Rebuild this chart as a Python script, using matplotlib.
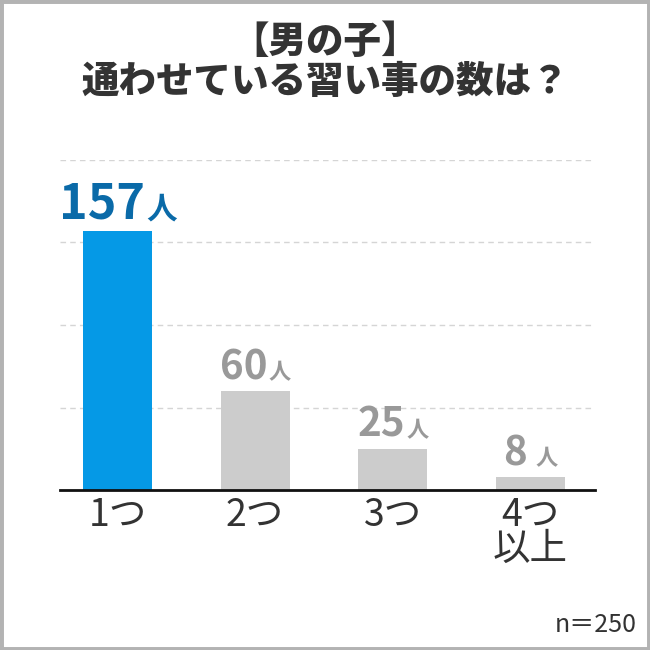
import matplotlib
matplotlib.use("Agg")
import matplotlib.pyplot as plt
from matplotlib.offsetbox import TextArea, HPacker, AnnotationBbox
from matplotlib.patches import Rectangle

plt.rcParams['font.family'] = ['Noto Sans CJK JP', 'DejaVu Sans']

categories = ["1つ", "2つ", "3つ", "4つ\n以上"]
counts = [157, 60, 25, 8]
bar_colors = ["#0599e6", "#cccccc", "#cccccc", "#cccccc"]
label_colors = ["#0a6aa8", "#999999", "#999999", "#999999"]
num_sizes = [35, 29, 29, 29]
unit_sizes = [22, 16, 16, 16]
title = "【男の子】\n通わせている習い事の数は？"
note = "n＝250"

W = H = 650
fig = plt.figure(figsize=(6.5, 6.5), dpi=100)

# frame
fig.patches.append(Rectangle((0, 0), 1, 1, transform=fig.transFigure,
                             fill=False, edgecolor="#b3b3b3", linewidth=5))

fig.text(0.5, 1 - 62 / H, title, ha="center", va="center", fontsize=27,
         fontweight="heavy", color="#333333", linespacing=1.05)

ax = fig.add_axes([60 / W, 1 - 490 / H, 535 / W, 330 / H])
x = list(range(len(categories)))
ax.bar(x, counts, width=0.5, color=bar_colors, zorder=2)
ax.set_xlim(-0.418, 3.47)
ax.set_ylim(0, 200)
ax.set_yticks([50, 100, 150, 200])
ax.yaxis.grid(True, linestyle=(0, (4, 3)), color="#d5d5d5", linewidth=1)
ax.tick_params(axis="y", length=0, labelleft=False)
ax.tick_params(axis="x", length=0, pad=4)
ax.set_xticks(x)
ax.set_xticklabels(categories, fontsize=27, color="#333333", linespacing=0.85)
for s in ["top", "right", "left"]:
    ax.spines[s].set_visible(False)
ax.spines["bottom"].set_linewidth(2)
ax.spines["bottom"].set_color("#111111")
ax.spines["bottom"].set_zorder(3)

for i, v in enumerate(counts):
    num = TextArea(str(v), textprops=dict(fontsize=num_sizes[i], fontweight="bold",
                                          color=label_colors[i]))
    unit = TextArea("人", textprops=dict(fontsize=unit_sizes[i], fontweight="bold",
                                        color=label_colors[i]))
    box = HPacker(children=[num, unit], align="baseline", pad=0,
                  sep=6 if v < 10 else 1)
    ab = AnnotationBbox(box, (i, v), xybox=(0, 2), xycoords="data",
                        boxcoords="offset points", box_alignment=(0.5, 0),
                        frameon=False)
    ax.add_artist(ab)

fig.text(1 - 13 / W, 12 / H, note, ha="right", va="bottom", fontsize=18,
         color="#333333")

fig.savefig("out.png", dpi=100)
